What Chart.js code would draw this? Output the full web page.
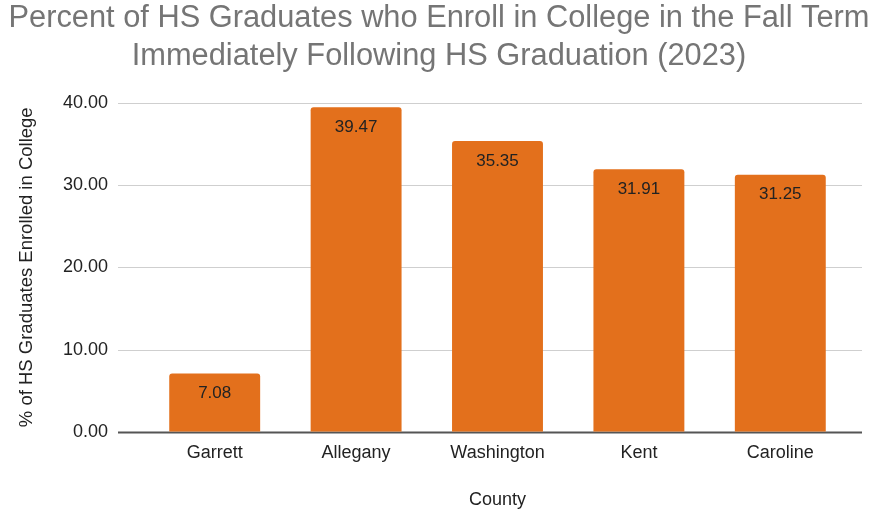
<!DOCTYPE html>
<html>
<head>
<meta charset="utf-8">
<script src="https://cdn.jsdelivr.net/npm/chart.js@4"></script>
<style>
  html, body { margin: 0; padding: 0; background: #fff; }
  #wrap { width: 887px; height: 513px; }
</style>
</head>
<body>
<div id="wrap"><canvas id="chart" width="887" height="513"></canvas></div>
<script>
// data
const counties = ["Garrett", "Allegany", "Washington", "Kent", "Caroline"];
const enrollPct = [7.08, 39.47, 35.35, 31.91, 31.25];
const yTicks = [0, 10, 20, 30, 40];

const barColor = "#E3701C";
const FONT = "'Liberation Sans', Arial, sans-serif";

// grid lines run a bit wider than the bars, like the sheets chart
const gridPlugin = {
  id: "wideGrid",
  afterLayout(chart) {
    // centre the title on the whole canvas, not just the padded area
    chart.titleBlock.right = chart.width - 9;
  },
  beforeDatasetsDraw(chart) {
    const { ctx, scales } = chart;
    ctx.save();
    yTicks.forEach(v => {
      const y = Math.round(scales.y.getPixelForValue(v)) + 0.5;
      ctx.beginPath();
      ctx.moveTo(118, y);
      ctx.lineTo(862, y);
      ctx.lineWidth = v === 0 ? 2 : 1;
      ctx.strokeStyle = v === 0 ? "#555" : "#cfcfcf";
      ctx.stroke();
    });
    ctx.restore();
  }
};

// value labels inside the top of each bar
const labelPlugin = {
  id: "barLabels",
  afterDatasetsDraw(chart) {
    const { ctx } = chart;
    const meta = chart.getDatasetMeta(0);
    ctx.save();
    ctx.font = "17px " + FONT;
    ctx.fillStyle = "#222";
    ctx.textAlign = "center";
    ctx.textBaseline = "middle";
    meta.data.forEach((bar, i) => {
      ctx.fillText(enrollPct[i].toFixed(2), bar.x, bar.y + 20);
    });
    ctx.restore();
  }
};

new Chart(document.getElementById("chart"), {
  type: "bar",
  data: {
    labels: counties,
    datasets: [{
      data: enrollPct,
      backgroundColor: barColor,
      borderRadius: { topLeft: 3, topRight: 3 },
      borderSkipped: "bottom",
      barPercentage: 0.643,
      categoryPercentage: 1
    }]
  },
  options: {
    responsive: false,
    animation: false,
    layout: { padding: { left: 0, right: 36, top: 0, bottom: 2 } },
    plugins: {
      legend: { display: false },
      tooltip: { enabled: false },
      title: {
        display: true,
        text: ["Percent of HS Graduates who Enroll in College in the Fall Term",
               "Immediately Following HS Graduation (2023)"],
        color: "#757575",
        font: { family: FONT, size: 30.8, weight: "normal", lineHeight: 1.23 },
        padding: { top: 0, bottom: 27 }
      }
    },
    scales: {
      x: {
        grid: { display: false },
        border: { display: false },
        ticks: { color: "#222", padding: 2, font: { family: FONT, size: 18 } },
        title: {
          display: true,
          text: "County",
          color: "#222",
          font: { family: FONT, size: 18 },
          padding: { top: 24, bottom: 0 }
        }
      },
      y: {
        min: 0,
        max: 40,
        afterFit(scale) { scale.width = 144; },
        afterBuildTicks(scale) { scale.ticks = yTicks.map(v => ({ value: v })); },
        grid: { display: false },
        border: { display: false },
        ticks: {
          color: "#222",
          padding: 28,
          font: { family: FONT, size: 18 },
          callback: v => v.toFixed(2)
        },
        title: {
          display: true,
          text: "% of HS Graduates Enrolled in College",
          color: "#222",
          font: { family: FONT, size: 18.5 },
          padding: { top: 16, bottom: 0 }
        }
      }
    }
  },
  plugins: [gridPlugin, labelPlugin]
});
</script>
</body>
</html>
